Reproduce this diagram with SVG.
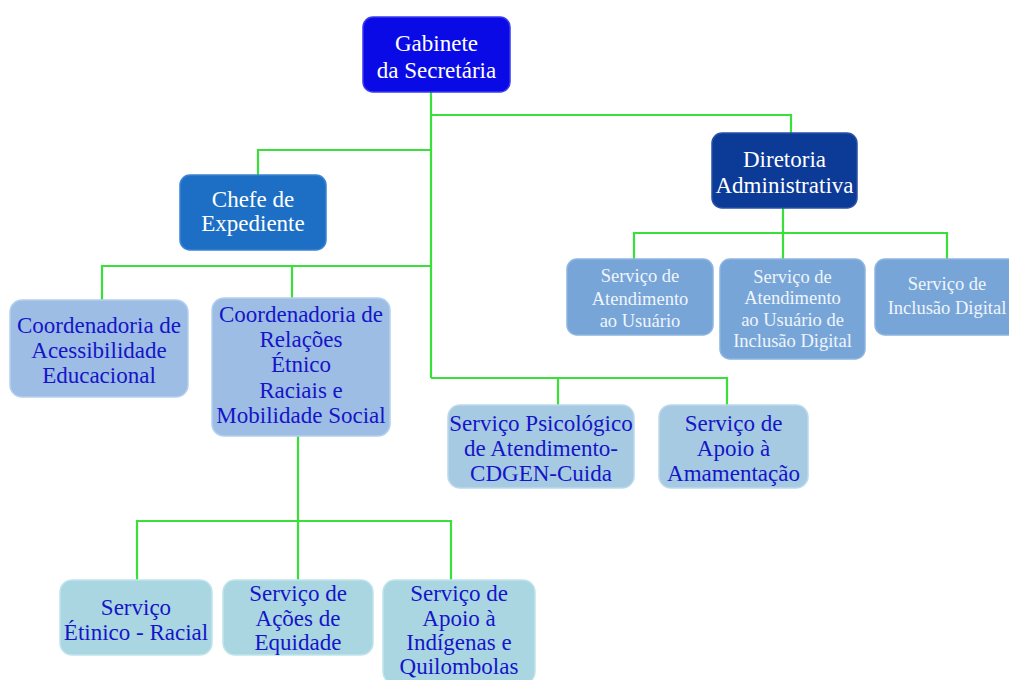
<svg xmlns="http://www.w3.org/2000/svg" width="1009" height="680" viewBox="0 0 1009 680">
<style>
text{font-family:"Liberation Serif","Times New Roman",serif;text-anchor:middle}
.w{fill:#ffffff;font-size:23px}
.ws{fill:#f0f5fb;font-size:18.5px}
.b{fill:#1515c8;font-size:23px}
.box{stroke-width:1.5}
.lnk{fill:none;stroke:#3ae03a;stroke-width:2.2}
</style>
<rect width="1009" height="680" fill="#ffffff"/>
<g id="connectors">
<path class="lnk" d="M431 92V378"/>
<path class="lnk" d="M431 115H791V133"/>
<path class="lnk" d="M431 150H258V175"/>
<path class="lnk" d="M102 300V266H431"/>
<path class="lnk" d="M292 266V298"/>
<path class="lnk" d="M431 378H727V405"/>
<path class="lnk" d="M558 378V405"/>
<path class="lnk" d="M783 208V259"/>
<path class="lnk" d="M634 259V233H947V259"/>
<path class="lnk" d="M298 436V580"/>
<path class="lnk" d="M137 580V521H451V580"/>
</g>
<g id="gabinete">
<rect class="box" x="363" y="17" width="147" height="75" rx="10" fill="#0a0ae6" stroke="#3a3af0"/>
<text class="w" x="436.5" y="51">Gabinete</text>
<text class="w" x="436.5" y="78">da Secretária</text>
</g>
<g id="chefe">
<rect class="box" x="180" y="175" width="146" height="75" rx="10" fill="#1c6fc4" stroke="#3a84d0"/>
<text class="w" x="253" y="207">Chefe de</text>
<text class="w" x="253" y="231">Expediente</text>
</g>
<g id="diretoria">
<rect class="box" x="712" y="133" width="145" height="75" rx="10" fill="#0b3a97" stroke="#2a52a8"/>
<text class="w" x="784.5" y="167">Diretoria</text>
<text class="w" x="784.5" y="193">Administrativa</text>
</g>
<g id="coord-acessibilidade">
<rect class="box" x="10" y="300" width="178" height="97" rx="12" fill="#9dbde4" stroke="#b4d0ee"/>
<text class="b" x="99" y="333">Coordenadoria de</text>
<text class="b" x="99" y="358">Acessibilidade</text>
<text class="b" x="99" y="383">Educacional</text>
</g>
<g id="coord-relacoes">
<rect class="box" x="212" y="298" width="178" height="138" rx="12" fill="#9dbde4" stroke="#b4d0ee"/>
<text class="b" x="301" y="322">Coordenadoria de</text>
<text class="b" x="301" y="347">Relações</text>
<text class="b" x="301" y="372">Étnico</text>
<text class="b" x="301" y="398">Raciais e</text>
<text class="b" x="301" y="423">Mobilidade Social</text>
</g>
<g id="servico-atendimento">
<rect class="box" x="567" y="259" width="146" height="76" rx="10" fill="#77a5d8" stroke="#8cb4e0"/>
<text class="ws" x="640" y="282">Serviço de</text>
<text class="ws" x="640" y="305">Atendimento</text>
<text class="ws" x="640" y="327">ao Usuário</text>
</g>
<g id="servico-atendimento-inclusao">
<rect class="box" x="720" y="259" width="145" height="100" rx="10" fill="#77a5d8" stroke="#8cb4e0"/>
<text class="ws" x="792.5" y="283">Serviço de</text>
<text class="ws" x="792.5" y="304">Atendimento</text>
<text class="ws" x="792.5" y="326">ao Usuário de</text>
<text class="ws" x="792.5" y="347">Inclusão Digital</text>
</g>
<g id="servico-inclusao">
<rect class="box" x="875" y="259" width="145" height="76" rx="10" fill="#77a5d8" stroke="#8cb4e0"/>
<text class="ws" x="947" y="290">Serviço de</text>
<text class="ws" x="947" y="314">Inclusão Digital</text>
</g>
<g id="servico-psicologico">
<rect class="box" x="448" y="405" width="186" height="83" rx="12" fill="#a5cae2" stroke="#bcd9ec"/>
<text class="b" x="541" y="431">Serviço Psicológico</text>
<text class="b" x="541" y="456">de Atendimento-</text>
<text class="b" x="541" y="481">CDGEN-Cuida</text>
</g>
<g id="servico-amamentacao">
<rect class="box" x="659" y="405" width="149" height="83" rx="12" fill="#a5cae2" stroke="#bcd9ec"/>
<text class="b" x="733.5" y="431">Serviço de</text>
<text class="b" x="733.5" y="456">Apoio à</text>
<text class="b" x="733.5" y="481">Amamentação</text>
</g>
<g id="servico-etnico">
<rect class="box" x="60" y="580" width="152" height="75" rx="12" fill="#aad6e2" stroke="#c0e4ec"/>
<text class="b" x="136" y="615">Serviço</text>
<text class="b" x="136" y="640">Étinico - Racial</text>
</g>
<g id="servico-equidade">
<rect class="box" x="223" y="580" width="150" height="75" rx="12" fill="#aad6e2" stroke="#c0e4ec"/>
<text class="b" x="298" y="601">Serviço de</text>
<text class="b" x="298" y="626">Ações de</text>
<text class="b" x="298" y="650">Equidade</text>
</g>
<g id="servico-indigenas">
<rect class="box" x="383" y="580" width="152" height="104" rx="12" fill="#aad6e2" stroke="#c0e4ec"/>
<text class="b" x="459" y="601">Serviço de</text>
<text class="b" x="459" y="626">Apoio à</text>
<text class="b" x="459" y="650">Indígenas e</text>
<text class="b" x="459" y="674">Quilombolas</text>
</g>
</svg>
